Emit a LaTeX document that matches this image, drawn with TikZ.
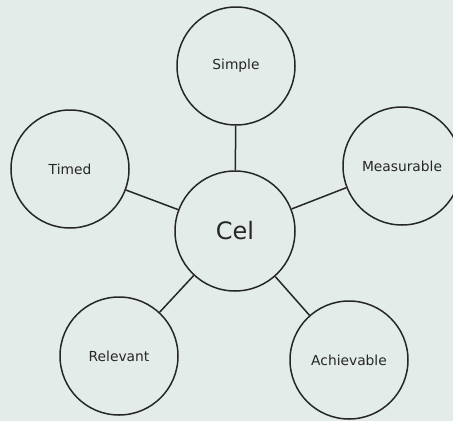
\documentclass[tikz,border=0pt]{standalone}
\usepackage{fontspec}
\setmainfont{DejaVu Sans}
\usetikzlibrary{positioning}
\definecolor{bgcolor}{RGB}{228,236,233}
\definecolor{inkcolor}{RGB}{38,38,38}
\tikzstyle{goal}=[circle,draw=inkcolor,line width=1.5pt,minimum size=118pt,inner sep=0pt,text=inkcolor,font=\fontsize{13.8}{16}\selectfont]
\tikzstyle{main goal}=[goal, minimum size=120pt, font=\fontsize{24}{28}\selectfont]
\tikzstyle{link}=[draw=inkcolor,line width=1.5pt]

\begin{document}
\begin{tikzpicture}[x=1pt, y=-1pt]
		% Background and picture size
		\fill[bgcolor] (0,0) rectangle (453,421);
		\useasboundingbox (0,0) rectangle (453,421);
		% Centre node
		\node[main goal] (C) at (235,231) {Cel};
		% The five outer nodes
		\node[goal] (S) at (236,66) {Simple};
		\node[goal] (M) at (402,166) {Measurable};
		\node[goal] (A) at (349,360) {Achievable};
		\node[goal] (R) at (119,356) {Relevant};
		\node[goal] (T) at (70,169) {Timed};
		% Connect every outer node with the centre
		\foreach \outer in {S,M,A,R,T}
		\path[link] (\outer) -- (C);
	\end{tikzpicture}
\end{document}
